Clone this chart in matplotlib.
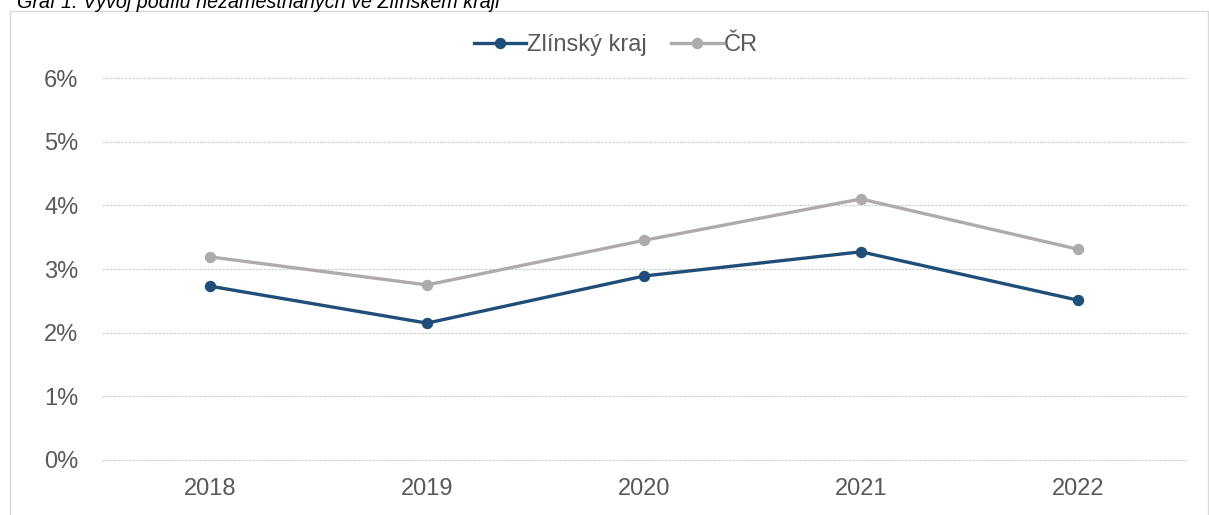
import matplotlib
matplotlib.use("Agg")
import matplotlib.pyplot as plt
from matplotlib.patches import Rectangle
from matplotlib.ticker import FuncFormatter

plt.rcParams['font.family'] = ['Liberation Sans', 'DejaVu Sans']

years = ["2018", "2019", "2020", "2021", "2022"]
zlin = [2.73, 2.15, 2.89, 3.27, 2.51]
cr = [3.19, 2.75, 3.45, 4.10, 3.31]
series_names = ["Zlínský kraj", "ČR"]
title = "Graf 1: Vývoj podílu nezaměstnaných ve Zlínském kraji"

W, H = 1209, 515
fig = plt.figure(figsize=(W / 100, H / 100), dpi=100)
ax = fig.add_axes([101.5 / W, 1 - 460 / H, (1186.5 - 101.5) / W, (460 - 78) / H])

# outer frame
fig.patches.append(Rectangle((10 / W, -0.05), (1207.5 - 10) / W, 1.05 - 11 / H,
                             transform=fig.transFigure, fill=False,
                             edgecolor='#d9d9d9', linewidth=1.0))
fig.text(17 / W, 1 - 8 / H, title, fontsize=14.2, style='italic', color='#000000',
         ha='left', va='baseline')

x = list(range(len(years)))
ax.plot(x, zlin, color='#1f4e79', linewidth=2.4, marker='o', markersize=7.2,
        label=series_names[0], zorder=3)
ax.plot(x, cr, color='#afabab', linewidth=2.4, marker='o', markersize=7.2,
        label=series_names[1], zorder=3)

ax.set_xlim(-0.5, len(years) - 0.5)
ax.set_ylim(0, 6)
ax.set_yticks(range(0, 7))
ax.yaxis.set_major_formatter(FuncFormatter(lambda v, p: f"{int(v)}%"))
ax.set_xticks(x)
ax.set_xticklabels(years)
ax.grid(axis='y', color='#d0d0d0', linewidth=0.9, linestyle=(0, (2, 1)))
for gl in ax.get_ygridlines():
    gl.set_clip_on(False)
ax.set_axisbelow(True)
for s in ax.spines.values():
    s.set_visible(False)
ax.tick_params(axis='both', length=0, labelsize=17, colors='#595959')
ax.tick_params(axis='y', pad=16.5)
ax.tick_params(axis='x', pad=13)

leg = ax.legend(loc='center', bbox_to_anchor=((616 - 101.5) / 1085, 1 + (78 - 45) / (460 - 78)),
                ncol=2, frameon=False, fontsize=17, handlelength=2.2,
                handletextpad=0.05, columnspacing=1.0, labelcolor='#595959')

fig.savefig("out.png", dpi=100)
